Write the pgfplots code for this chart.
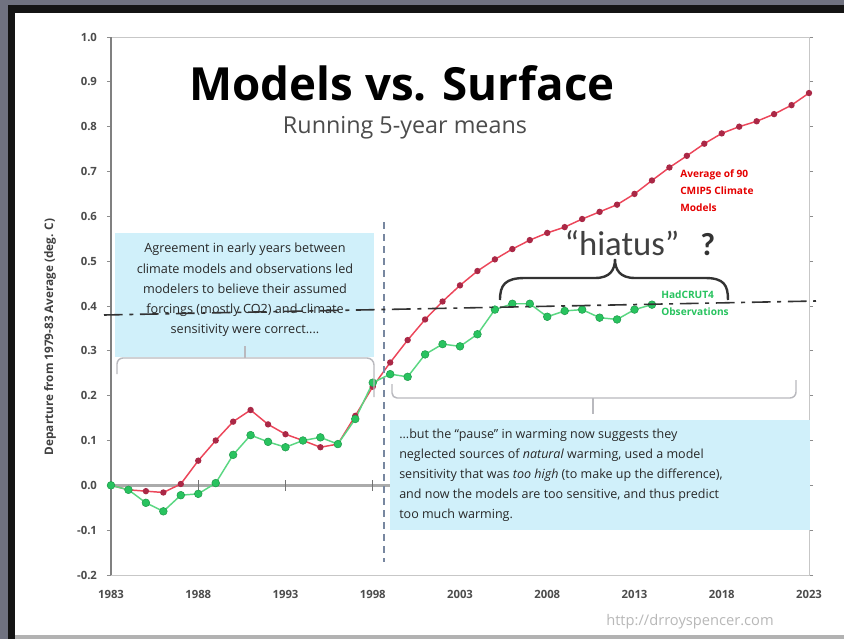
\documentclass[border=0pt]{standalone}
\usepackage{pgfplots}
\pgfplotsset{compat=1.18}
\usepackage{fontspec}
\setmainfont{Open Sans}
\newfontfamily\calfont{Carlito}
\definecolor{redline}{RGB}{236,70,90}
\definecolor{redmark}{RGB}{170,40,70}
\definecolor{grnline}{RGB}{90,215,130}
\definecolor{grnmark}{RGB}{40,195,95}
\definecolor{boxblue}{RGB}{208,240,250}
\definecolor{txt}{RGB}{40,40,40}
\definecolor{framegray}{RGB}{112,114,128}
\definecolor{brk}{RGB}{185,185,190}
\begin{document}
\begin{tikzpicture}
\useasboundingbox (0,0) rectangle (633pt,-479.25pt);
\fill[white] (0,0) rectangle (633pt,-479.25pt);
\begin{axis}[
  at={(83.25pt,-431.25pt)}, anchor=south west,
  scale only axis, width=523.5pt, height=403.5pt,
  xmin=1983, xmax=2023, ymin=-0.2, ymax=1.0,
  xtick={1983,1988,1993,1998,2003,2008,2013,2018,2023},
  ytick={-0.2,-0.1,0,0.1,0.2,0.3,0.4,0.5,0.6,0.7,0.8,0.9,1.0},
  xticklabel style={/pgf/number format/.cd, fixed, precision=0, 1000 sep={}},
  yticklabel style={/pgf/number format/.cd, fixed, fixed zerofill, precision=1},
  /pgf/number format/assume math mode=true,
  ticklabel style={font=\bfseries\fontsize{8.5}{10}\selectfont, text=black!70},
  xtick style={draw=none},
  ytick style={draw=black!45, line width=0.6pt},
  tick align=outside, major tick length=3pt,
  yticklabel shift=4pt, xticklabel shift=5pt,
  axis line style={draw=black!22, line width=0.7pt},
  clip=false,
]
\draw[black!50, line width=0.8pt] (axis cs:1983,-0.2) -- (axis cs:1983,1.0);
\draw[black!33, line width=2.2pt] (axis cs:1983,0) -- (axis cs:2023,0);
\draw[black!55, line width=0.9pt] (axis cs:1988,-0.012) -- (axis cs:1988,0.012);
\draw[black!55, line width=0.9pt] (axis cs:1993,-0.012) -- (axis cs:1993,0.012);
\draw[black!55, line width=0.9pt] (axis cs:1998,-0.012) -- (axis cs:1998,0.012);
\draw[black!55, line width=0.9pt] (axis cs:2003,-0.012) -- (axis cs:2003,0.012);
\draw[black!55, line width=0.9pt] (axis cs:2008,-0.012) -- (axis cs:2008,0.012);
\draw[black!55, line width=0.9pt] (axis cs:2013,-0.012) -- (axis cs:2013,0.012);
\draw[black!55, line width=0.9pt] (axis cs:2018,-0.012) -- (axis cs:2018,0.012);
\addplot[redline, line width=1.1pt, mark=*, mark size=1.8pt, mark options={fill=redmark, draw=redmark}] table {
1983 0.000
1984 -0.010
1985 -0.013
1986 -0.016
1987 0.003
1988 0.055
1989 0.100
1990 0.142
1991 0.168
1992 0.136
1993 0.114
1994 0.100
1995 0.085
1996 0.092
1997 0.155
1998 0.220
1999 0.274
2000 0.324
2001 0.370
2002 0.410
2003 0.446
2004 0.478
2005 0.504
2006 0.527
2007 0.547
2008 0.563
2009 0.576
2010 0.594
2011 0.610
2012 0.626
2013 0.650
2014 0.680
2015 0.709
2016 0.735
2017 0.762
2018 0.785
2019 0.800
2020 0.812
2021 0.828
2022 0.848
2023 0.875
};
\addplot[grnline, line width=1.1pt, mark=*, mark size=2.9pt, mark options={fill=grnmark, draw=grnmark!80!black, line width=0.4pt}] table {
1983 0.000
1984 -0.010
1985 -0.039
1986 -0.058
1987 -0.022
1988 -0.019
1989 0.005
1990 0.068
1991 0.112
1992 0.097
1993 0.085
1994 0.100
1995 0.107
1996 0.092
1997 0.148
1998 0.229
1999 0.248
2000 0.242
2001 0.292
2002 0.315
2003 0.310
2004 0.337
2005 0.392
2006 0.405
2007 0.405
2008 0.376
2009 0.389
2010 0.392
2011 0.374
2012 0.370
2013 0.392
2014 0.403
};
\end{axis}
\begin{scope}[x=0.75pt,y=-0.75pt]
% frame
\fill[framegray] (0,0) rectangle (844,5);
\fill[framegray] (0,0) rectangle (8,639);
\fill[black!92] (8,5) rectangle (844,13);
\fill[black!92] (8,5) rectangle (15,639);
\fill[black!30] (15,635) rectangle (844,639);
% y label
\node[rotate=90, font=\bfseries\fontsize{8.8}{10}\selectfont, text=black!75] at (50,337) {Departure from 1979-83 Average (deg. C)};
% title
\node[anchor=base, text=black] at (402,100) {\resizebox{318.75pt}{!}{\bfseries\fontsize{30}{36}\selectfont Models vs. Surface}};
\node[anchor=base, text=black!70] at (405,133) {\resizebox{183pt}{!}{\fontsize{14}{16}\selectfont Running 5-year means}};
% vertical dotted line
\draw[color={rgb,255:red,120;green,135;blue,160}, line width=1.3pt, dash pattern=on 5pt off 4pt] (384,222) -- (384,562);
% box 1
\fill[boxblue] (115,233) rectangle (374,357);
\node[align=center, text=txt, font=\fontsize{9.5}{15.2}\selectfont, inner sep=0pt] at (245,290) {Agreement in early years between\\climate models and observations led\\modelers to believe their assumed\\forcings (mostly CO2) and climate\\sensitivity were correct....};
\draw[brk, line width=1.1pt] (117,374) -- (117,364) to[out=90,in=180] (123,358) -- (367,358) to[out=0,in=90] (374,365) -- (374,397);
\draw[brk, line width=1.1pt] (245,358) -- (245,346);
% box 2
\fill[boxblue] (390,420) rectangle (810,530);
\node[align=left, anchor=west, text=txt, font=\fontsize{9.4}{15}\selectfont, inner sep=0pt] at (399,475) {...but the “pause” in warming now suggests they\\neglected sources of \emph{natural} warming, used a model\\sensitivity that was \emph{too high} (to make up the difference),\\and now the models are too sensitive, and thus predict\\too much warming.};
\draw[brk, line width=1.1pt] (392,384) -- (392,393) to[out=-90,in=180] (397,398) -- (790,398) to[out=0,in=-90] (796,392) -- (796,380);
\draw[brk, line width=1.1pt] (593,398) -- (593,414);
% series labels
\node[anchor=north west, align=left, text=red!90!black, font=\bfseries\fontsize{7.6}{12.75}\selectfont, inner sep=0pt] at (680,169) {Average of 90\\CMIP5 Climate\\Models};
\node[anchor=north west, align=left, text=grnmark, font=\bfseries\fontsize{7.6}{12.75}\selectfont, inner sep=0pt] at (661,291) {HadCRUT4\\Observations};
% dashed reference line
\draw[black!80, line width=1.2pt, dash pattern=on 14pt off 5pt on 3pt off 5pt] (104,315) -- (816,301);
% hiatus brace
\draw[black!80, line width=1.8pt] (500,300) .. controls (500,285) and (505,278) .. (525,278) -- (595,278) .. controls (610,278) and (615,270) .. (615,259) .. controls (615,270) and (620,278) .. (635,278) -- (705,278) .. controls (724,278) and (728,285) .. (728,300);
\node[anchor=base, text=black!75, font=\calfont\fontsize{26}{30}\selectfont, inner sep=0pt] at (622,255) {“hiatus”};
\node[anchor=base west, text=black!80, font=\calfont\bfseries\fontsize{24}{30}\selectfont, inner sep=0pt] at (700,255) {?};
% url
\node[text=black!28, font=\fontsize{11}{13}\selectfont] at (690,622) {http://drroyspencer.com};
\end{scope}
\end{tikzpicture}
\end{document}
